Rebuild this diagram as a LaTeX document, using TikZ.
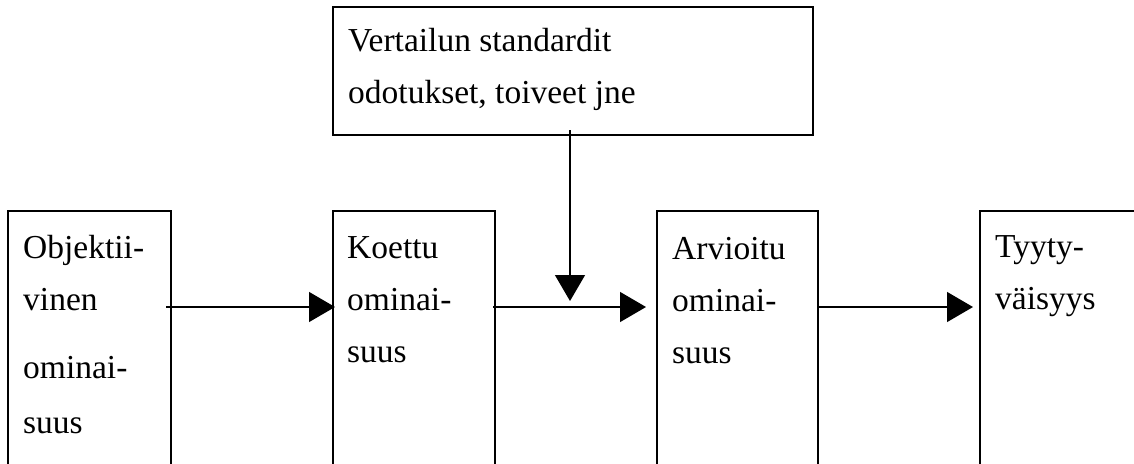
\documentclass[tikz,border=0pt]{standalone}
\usepackage{fontspec}
\setmainfont{Liberation Serif}
\usetikzlibrary{arrows.meta,positioning}
\def\Body{\fontsize{33.5}{52}\selectfont}

\begin{document}
\begin{tikzpicture}[x=1pt,y=-1pt,% coordinates in pixels, y downwards
			every node/.style={
				align=left,  		% so that "\\" breaks the line
				inner sep=0pt,
				font=\Body
			},
			box/.style={rectangle,draw=black,line width=2pt,outer sep=0pt,
				minimum width=163pt,minimum height=264pt,anchor=north west},
			every edge/.style={draw,line width=1.3pt,-{Triangle[length=26pt,width=30pt]}}
		]
		\useasboundingbox (0,0) rectangle (1134,463);
		\clip (0,0) rectangle (1134,463);
		% boxes
		\node[box,minimum width=480pt,minimum height=128pt](Cmp) at (333,7){};
		\node[box](Obj) at (8,211){};
		\node[box,minimum width=162pt](Koe) at (333,211){};
		\node[box,minimum width=161pt](Arv) at (657,211){};
		\node[box,minimum width=170pt](Tyy) at (980,211){};
		% texts (base = baseline of the last line)
		\node[anchor=base west](CmpT) at ([xshift=15pt,yshift=-96pt]Cmp.north west){Vertailun standardit \\ odotukset, toiveet jne};
		\node[anchor=base west](ObjT) at ([xshift=15pt,yshift=-222pt]Obj.north west){Objektii- \\ vinen \\[16pt] ominai- \\[3pt] suus};
		\node[anchor=base west](KoeT) at ([xshift=14pt,yshift=-151pt]Koe.north west){Koettu \\ ominai- \\ suus};
		\node[anchor=base west](ArvT) at ([xshift=15pt,yshift=-152pt]Arv.north west){Arvioitu \\ ominai- \\ suus};
		\node[anchor=base west](TyyT) at ([xshift=15pt,yshift=-98pt]Tyy.north west){Tyyty- \\ väisyys};
		% arrows
		\coordinate (flow) at (570,307);
		\path
		(Obj.east |- flow)edge [shorten <=-5pt,shorten >=-2pt] (Koe.west |- flow)
		(Koe.east |- flow)edge [shorten <=-2pt,shorten >=11pt] (Arv.west |- flow)
		(Arv.east |- flow)edge [shorten >=7pt] (Tyy.west |- flow)
		(flow |- Cmp.south)edge [shorten <=-5pt,shorten >=6pt] (flow)
		;
	\end{tikzpicture}
\end{document}
